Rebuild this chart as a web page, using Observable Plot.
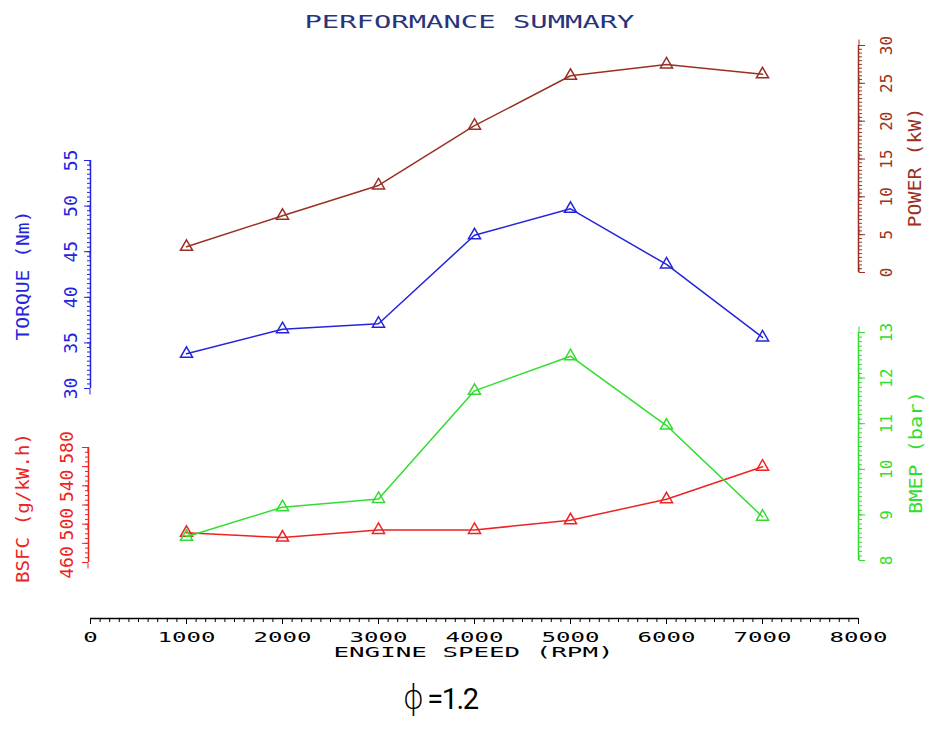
<!DOCTYPE html>
<html>
<head>
<meta charset="utf-8">
<script src="https://cdn.jsdelivr.net/npm/d3@7"></script>
<script src="https://cdn.jsdelivr.net/npm/@observablehq/plot@0.6"></script>
<style>
  body { margin: 0; background: #fff; }
  #wrap { position: relative; width: 925px; height: 731px; overflow: hidden; background: #fff; }
  #wrap svg { position: absolute; left: 0; top: 0; }
  #caption { position: absolute; left: 0; width: 880px; top: 678px; text-align: center; color: #000; white-space: nowrap; }
  #caption .phi { font-family: "DejaVu Sans"; font-size: 33px; font-weight: 300; margin-right: 3px; }
  #caption .val { font-family: Roboto; font-size: 29px; letter-spacing: -1.5px; }
</style>
</head>
<body>
<div id="wrap"></div>
<script>
// ---- data ----
const rpm    = [1000, 2000, 3000, 4000, 5000, 6000, 7000];
const torque = [33.8, 36.5, 37.1, 46.8, 49.7, 43.6, 35.6];      // Nm
const power  = [3.4, 7.5, 11.5, 19.4, 26.0, 27.5, 26.2];        // kW
const bmep   = [8.52, 9.17, 9.35, 11.72, 12.48, 10.96, 8.96];   // bar
const bsfc   = [491, 486, 494, 494, 504, 526, 560];             // g/kW.h

const xTicks = [0, 1000, 2000, 3000, 4000, 5000, 6000, 7000, 8000];
const torqueTicks = [30, 35, 40, 45, 50, 55];
const bsfcTicks = [460, 500, 540, 580];
const powerTicks = [0, 5, 10, 15, 20, 25, 30];
const bmepTicks = [8, 9, 10, 11, 12, 13];

const titleText = "PERFORMANCE SUMMARY";
const xLabel = "ENGINE SPEED (RPM)";
const torqueLabel = "TORQUE (Nm)";
const bsfcLabel = "BSFC (g/kW.h)";
const powerLabel = "POWER (kW)";
const bmepLabel = "BMEP (bar)";

const W = 925, H = 731, ML = 90, MR = 67;
const FONT = "DejaVu Sans Mono";
const wrap = document.getElementById("wrap");

function rows(vals) { return rpm.map((r, i) => ({rpm: r, v: vals[i]})); }

function setLen(el, L) {
  if (L) { el.setAttribute("textLength", L); el.setAttribute("lengthAdjust", "spacingAndGlyphs"); }
}
function stretchGroup(svg, label, lenFn) {
  d3.select(svg).selectAll(`g[aria-label="${label}"] text`).each(function() { setLen(this, lenFn(this.textContent)); });
}
function stretchText(svg, label, L) {
  d3.select(svg).selectAll(`text[aria-label="${label}"]`).each(function() { setLen(this, L); });
}

// ---- x axis + title layer ----
const xLayer = Plot.plot({
  width: W, height: H, marginLeft: ML, marginRight: MR, marginTop: 22, marginBottom: H - 618,
  x: {domain: [0, 8000], axis: null},
  y: {domain: [0, 1], axis: null},
  style: {color: "#000", fontFamily: FONT, background: "transparent", overflow: "visible"},
  marks: [
    Plot.ruleY([0], {strokeWidth: 1.3}),
    Plot.axisX({ticks: d3.range(0, 8001, 100), tickSize: 4, tickFormat: () => "", label: null}),
    Plot.axisX({ticks: xTicks, tickSize: 6, tickPadding: 8, fontSize: 14, tickFormat: d => String(d), label: null}),
    Plot.text([xLabel], {frameAnchor: "bottom", dy: 34, dx: -1, fontSize: 14, lineAnchor: "middle", ariaLabel: () => "xlabel"}),
    Plot.text([titleText], {frameAnchor: "top", dx: -5, lineAnchor: "middle", fontSize: 18, fill: "#28357a", ariaLabel: () => "title"})
  ]
});
stretchGroup(xLayer, "x-axis tick label", t => t.length * 14.5);
stretchText(xLayer, "xlabel", 280);
stretchText(xLayer, "title", 330);
wrap.appendChild(xLayer);

// ---- series layers ----
function layer({top, bottom, domain, color, vals, side, minor, major, ticks, pad, label, labelDx, labelDy, labelLen, tickFont, axisDx = 0}) {
  const left = side === "left";
  const svg = Plot.plot({
    width: W, height: H, marginLeft: ML, marginRight: MR, marginTop: top, marginBottom: H - bottom,
    x: {domain: [0, 8000], axis: null},
    y: {domain, axis: null},
    style: {color, fontFamily: FONT, background: "transparent", overflow: "visible"},
    marks: [
      Plot.ruleX([left ? 0 : 8000], {stroke: color, strokeWidth: 1.5, dx: axisDx}),
      Plot.axisY({anchor: side, ticks: d3.range(domain[0], domain[1] + minor / 2, minor), tickSize: 3, tickFormat: () => "", label: null, dx: axisDx}),
      Plot.axisY({anchor: side, ticks: d3.range(domain[0], domain[1] + major / 2, major), tickSize: 6, tickFormat: () => "", label: null, dx: axisDx}),
      Plot.axisY({anchor: side, ticks, tickSize: 6, tickPadding: pad, rotate: -90, textAnchor: "middle", lineAnchor: "middle",
                  fontSize: tickFont, tickFormat: d => String(d), label: null, dx: axisDx}),
      Plot.text([label], {frameAnchor: side, dx: labelDx, dy: labelDy, rotate: -90, textAnchor: "middle", lineAnchor: "middle",
                          fontSize: 18, fill: color, ariaLabel: () => "axislabel"}),
      Plot.line(rows(vals), {x: "rpm", y: "v", stroke: color, strokeWidth: 1.5}),
      Plot.dot(rows(vals), {x: "rpm", y: "v", symbol: "triangle", r: 4.5, stroke: color, fill: "none", strokeWidth: 1.5})
    ]
  });
  stretchText(svg, "axislabel", labelLen);
  return svg;
}

wrap.appendChild(layer({top: 160, bottom: 388, domain: [30, 55], color: "#2424dc", vals: torque, side: "left",
  minor: 0.5, major: 5, ticks: torqueTicks, pad: 13.5, label: torqueLabel, labelDx: -67.5, labelDy: 1, labelLen: 130, tickFont: 18}));

wrap.appendChild(layer({top: 447, bottom: 562, domain: [460, 580], color: "#ee2222", vals: bsfc, side: "left",
  minor: 5, major: 20, ticks: bsfcTicks, pad: 15, label: bsfcLabel, labelDx: -67.5, labelDy: 3, labelLen: 150, tickFont: 18, axisDx: -2}));

wrap.appendChild(layer({top: 45, bottom: 272, domain: [0, 30], color: "#9a3022", vals: power, side: "right",
  minor: 0.5, major: 5, ticks: powerTicks, pad: 22, label: powerLabel, labelDx: 57, labelDy: 8.5, labelLen: 120, tickFont: 16}));

wrap.appendChild(layer({top: 332, bottom: 560, domain: [8, 13], color: "#30dd30", vals: bmep, side: "right",
  minor: 0.1, major: 1, ticks: bmepTicks, pad: 22, label: bmepLabel, labelDx: 58, labelDy: 6, labelLen: 123, tickFont: 16}));

// ---- caption ----
const cap = document.createElement("div");
cap.id = "caption";
cap.innerHTML = '<span class="phi">ϕ</span><span class="val">=1.2</span>';
wrap.appendChild(cap);
</script>
</body>
</html>
